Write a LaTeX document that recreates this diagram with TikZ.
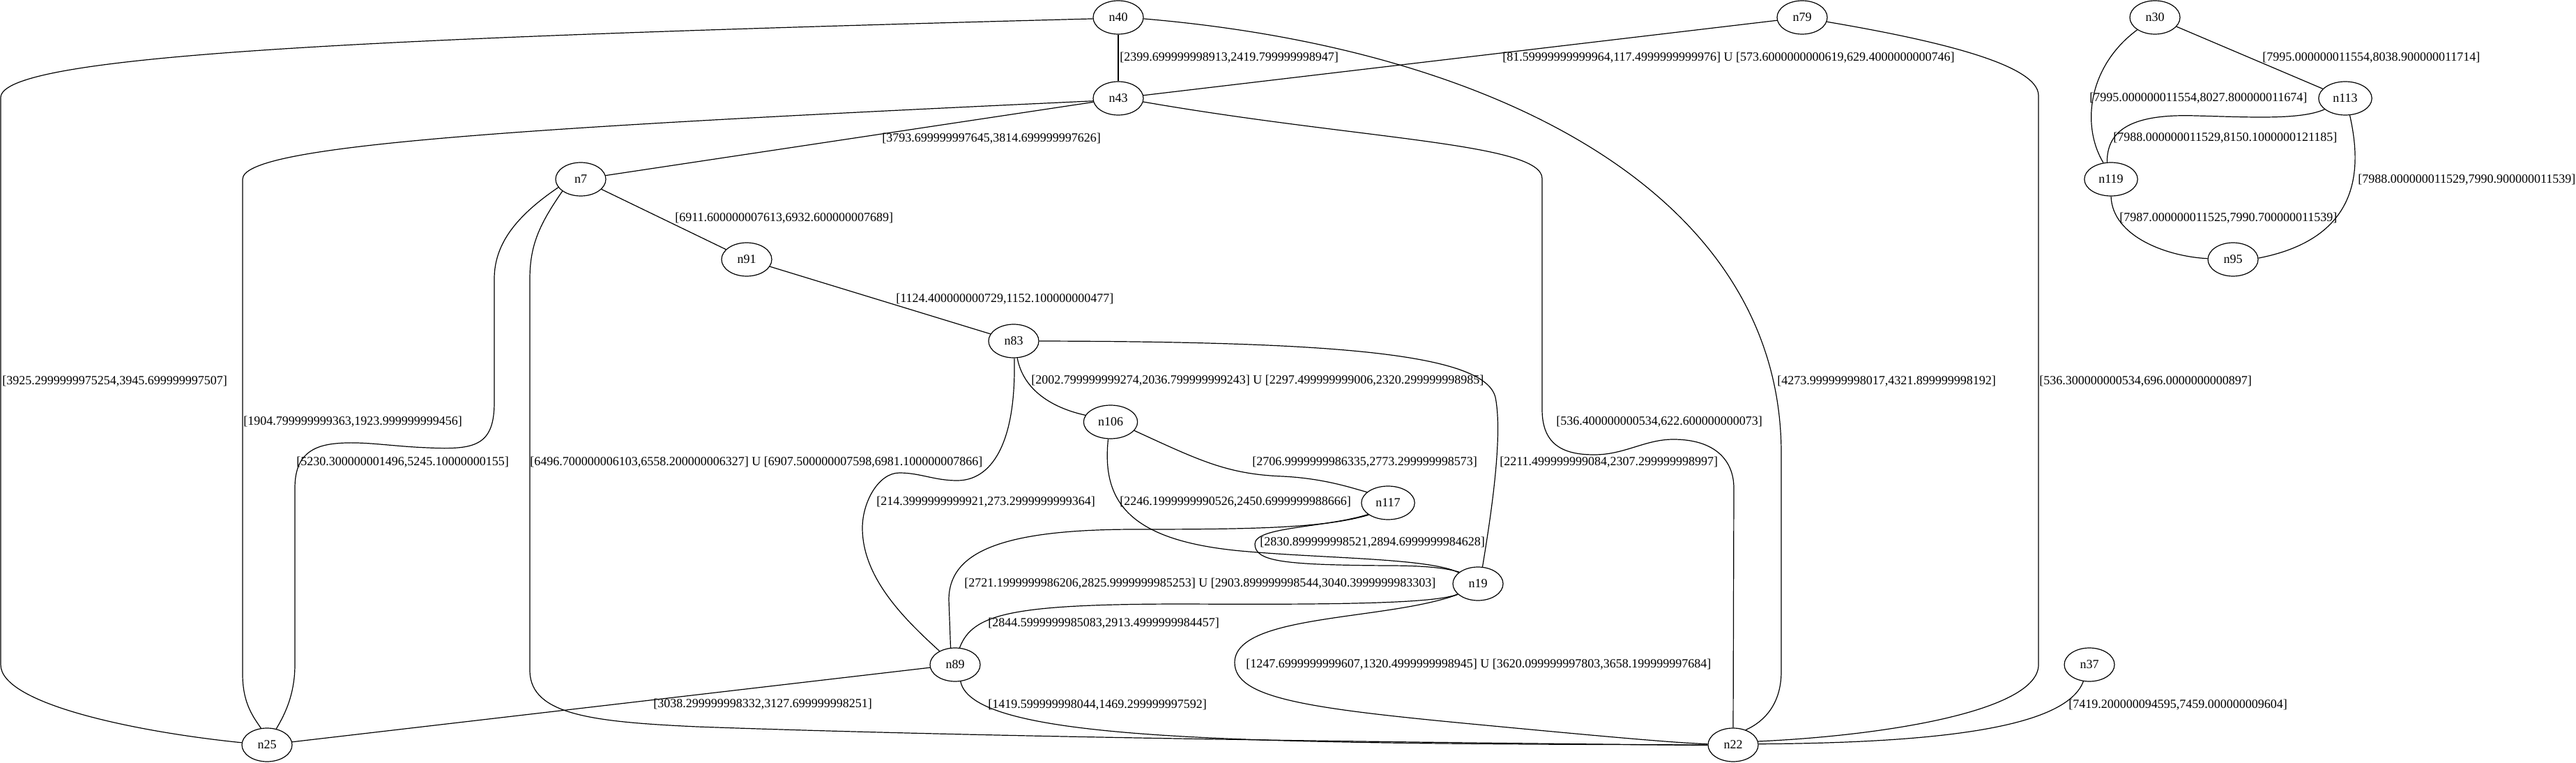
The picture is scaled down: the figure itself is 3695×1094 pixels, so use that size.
\documentclass[tikz,border=0pt]{standalone}
\usepackage{fontspec}
\setmainfont{Liberation Serif}
\usetikzlibrary{shapes.geometric}
\begin{document}
\begin{tikzpicture}[x=0.75pt,y=-0.75pt,
  gnode/.style={ellipse,draw,line width=0.9pt,minimum width=54pt,minimum height=36pt,inner xsep=7pt,inner ysep=2pt,font=\fontsize{13.5}{16}\selectfont},
  elabel/.style={anchor=west,inner sep=0pt,font=\fontsize{13.5}{16}\selectfont},
  conn/.style={line width=0.9pt}]
\useasboundingbox (0,0) rectangle (3695,1094);
% nodes
\node[gnode] (n40) at (1604,25) {n40};
\node[gnode] (n43) at (1604,141) {n43};
\node[gnode] (n79) at (2585,25) {n79};
\node[gnode] (n30) at (3091,25) {n30};
\node[gnode] (n113) at (3364,141) {n113};
\node[gnode] (n119) at (3028,257) {n119};
\node[gnode] (n95) at (3203,372) {n95};
\node[gnode] (n7) at (833,257) {n7};
\node[gnode] (n91) at (1071,372) {n91};
\node[gnode] (n83) at (1454,489) {n83};
\node[gnode] (n106) at (1593,605) {n106};
\node[gnode] (n117) at (1991,721) {n117};
\node[gnode] (n19) at (2120,837) {n19};
\node[gnode] (n89) at (1370,953) {n89};
\node[gnode] (n22) at (2486,1068) {n22};
\node[gnode] (n25) at (383,1068) {n25};
\node[gnode] (n37) at (2997,953) {n37};
% edges
\begin{scope}[conn]
\draw (n40.183) .. controls (500,55) and (1,80) .. (1,140) -- (1,953) .. controls (1,1010) and (200,1050) .. (n25.175);
\draw (n40) -- (n43);
\draw (n40.-3) .. controls (2150,70) and (2555,280) .. (2555,650) -- (2555,963) .. controls (2555,1010) and (2530,1035) .. (n22.50);
\draw (n43) -- (n79);
\draw (n43.186) .. controls (700,185) and (348,210) .. (348,257) -- (348,967) .. controls (348,1010) and (365,1030) .. (n25.110);
\draw (n43) -- (n7);
\draw (n43.-8) .. controls (1950,200) and (2212,205) .. (2212,256) -- (2212,587) .. controls (2212,640) and (2245,652) .. (2287,652) .. controls (2330,652) and (2360,630) .. (2400,630) .. controls (2460,630) and (2487,660) .. (2487,700) -- (n22.north);
\draw (n79.-10) .. controls (2760,55) and (2924,90) .. (2924,137) -- (2924,953) .. controls (2924,1020) and (2700,1055) .. (n22.8);
\draw (n30) -- (n113);
\draw (n30.215) .. controls (2995,95) and (2985,180) .. (n119.115);
\draw (n113.208) .. controls (3300,172) and (3230,168) .. (3150,166) .. controls (3060,163) and (3022,185) .. (n119.103);
\draw (n113.-75) .. controls (3385,230) and (3395,340) .. (n95.3);
\draw (n119.-90) .. controls (3030,340) and (3110,368) .. (n95.178);
\draw (n7) -- (n91);
\draw (n91) -- (n83);
\draw (n7.200) .. controls (740,310) and (709,350) .. (709,400) -- (709,577) .. controls (709,640) and (680,645) .. (614,642) .. controls (560,640) and (520,632) .. (481,636) .. controls (440,640) and (423,660) .. (423,700) -- (423,953) .. controls (423,1000) and (405,1030) .. (n25.60);
\draw (n7.213) .. controls (775,320) and (760,350) .. (760,400) -- (760,963) .. controls (762,1025) and (850,1035) .. (1000,1042) .. controls (1500,1060) and (2200,1066) .. (n22.181);
\draw (n89) -- (n25);
\draw (n89.-72) .. controls (1395,1065) and (1800,1066) .. (n22.180);
\draw (n83.-78) .. controls (1468,560) and (1510,585) .. (n106.165);
\draw (n83.-88) .. controls (1458,640) and (1420,689) .. (1373,689) .. controls (1340,689) and (1320,678) .. (1290,678) .. controls (1260,678) and (1237,720) .. (1237,757) .. controls (1237,830) and (1300,890) .. (n89.139);
\draw (n106.-20) .. controls (1720,660) and (1760,680) .. (1840,683) .. controls (1900,686) and (1940,700) .. (n117.153);
\draw (n106.-98) .. controls (1580,720) and (1620,775) .. (1780,790) .. controls (1900,801) and (2050,800) .. (n19.150);
\draw (n117.210) .. controls (1900,757) and (1800,755) .. (1800,780) .. controls (1800,805) and (1840,810) .. (1990,811) .. controls (2050,811) and (2075,815) .. (n19.148);
\draw (n117.212) .. controls (1900,757) and (1800,759) .. (1629,759) .. controls (1440,759) and (1361,790) .. (1361,860) -- (n89.105);
\draw (n83.0) .. controls (1900,490) and (2130,505) .. (2145,570) .. controls (2157,630) and (2135,760) .. (n19.75);
\draw (n19.207) .. controls (2060,866) and (1900,867) .. (1700,866) .. controls (1450,866) and (1395,880) .. (n89.75);
\draw (n19.208) .. controls (1990,890) and (1771,880) .. (1771,950) .. controls (1771,1000) and (1870,1015) .. (2100,1037) .. controls (2300,1056) and (2400,1065) .. (n22.178);
\draw (n37.-110) .. controls (2965,1040) and (2800,1065) .. (n22.2);
\end{scope}
% labels
\node[elabel] (l1) at (3,547) {[3925.2999999975254,3945.699999997507]};
\node[elabel] (l2) at (1606,83) {[2399.699999998913,2419.799999998947]};
\node[elabel] (l3) at (2155,83) {[81.59999999999964,117.4999999999976] U [573.6000000000619,629.4000000000746]};
\node[elabel] (l4) at (1265,199) {[3793.699999997645,3814.699999997626]};
\node[elabel] (l5) at (349,605) {[1904.799999999363,1923.999999999456]};
\node[elabel] (l6) at (2232,605) {[536.400000000534,622.600000000073]};
\node[elabel] (l7) at (2549,547) {[4273.999999998017,4321.899999998192]};
\node[elabel] (l8) at (2925,547) {[536.300000000534,696.0000000000897]};
\node[elabel] (l9) at (3245,83) {[7995.000000011554,8038.900000011714]};
\node[elabel] (l10) at (2997,141) {[7995.000000011554,8027.800000011674]};
\node[elabel] (l11) at (3031,198) {[7988.000000011529,8150.1000000121185]};
\node[elabel] (l12) at (3382,258) {[7988.000000011529,7990.900000011539]};
\node[elabel] (l13) at (3040,313) {[7987.000000011525,7990.700000011539]};
\node[elabel] (l14) at (968,313) {[6911.600000007613,6932.600000007689]};
\node[elabel] (l15) at (1285,429) {[1124.400000000729,1152.100000000477]};
\node[elabel] (l16) at (425,663) {[5230.300000001496,5245.10000000155]};
\node[elabel] (l17) at (760,663) {[6496.700000006103,6558.200000006327] U [6907.500000007598,6981.100000007866]};
\node[elabel] (l18) at (937,1010) {[3038.299999998332,3127.699999998251]};
\node[elabel] (l19) at (1417,1011) {[1419.599999998044,1469.299999997592]};
\node[elabel] (l20) at (1479,546) {[2002.799999999274,2036.799999999243] U [2297.499999999006,2320.299999998985]};
\node[elabel] (l21) at (1257,720) {[214.3999999999921,273.2999999999364]};
\node[elabel] (l22) at (1796,663) {[2706.9999999986335,2773.299999998573]};
\node[elabel] (l23) at (1606,720) {[2246.1999999990526,2450.6999999988666]};
\node[elabel] (l24) at (1807,778) {[2830.899999998521,2894.6999999984628]};
\node[elabel] (l25) at (1383,837) {[2721.1999999986206,2825.9999999985253] U [2903.899999998544,3040.3999999983303]};
\node[elabel] (l26) at (2151,663) {[2211.499999999084,2307.299999998997]};
\node[elabel] (l27) at (1417,894) {[2844.5999999985083,2913.4999999984457]};
\node[elabel] (l28) at (1787,953) {[1247.6999999999607,1320.4999999998945] U [3620.099999997803,3658.199999997684]};
\node[elabel] (l29) at (2967,1011) {[7419.200000094595,7459.000000009604]};
\end{tikzpicture}
\end{document}
